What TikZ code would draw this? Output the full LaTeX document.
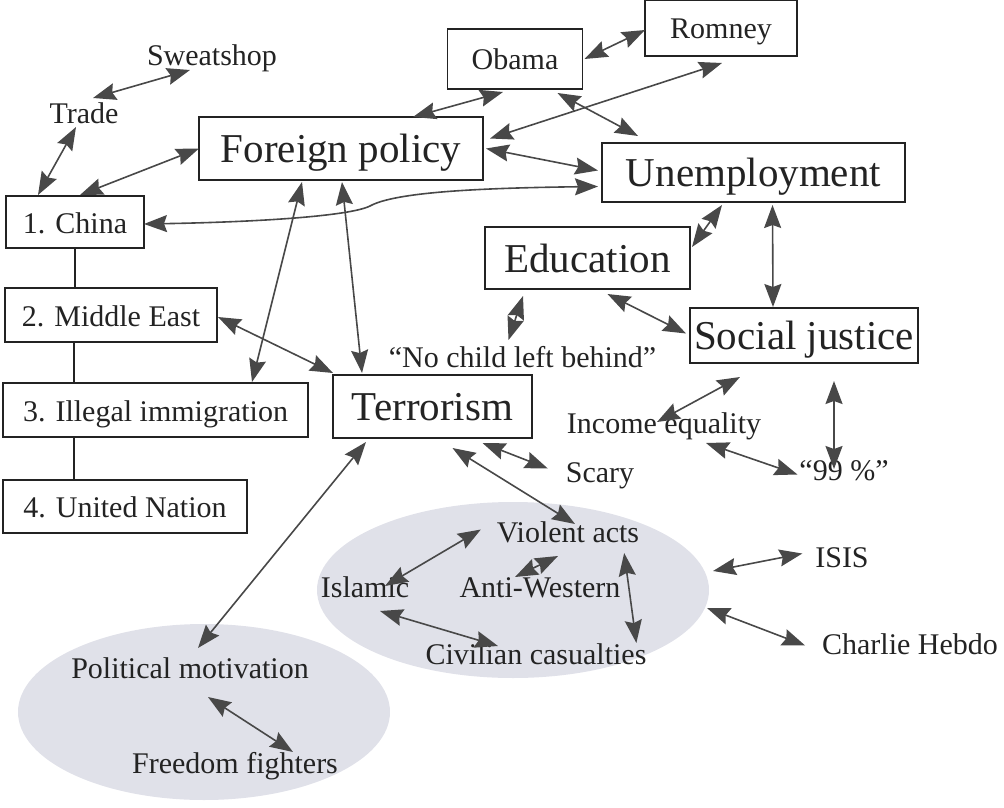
\documentclass[tikz,border=0pt]{standalone}
\usepackage{fontspec}
\setmainfont{Liberation Serif}
\usetikzlibrary{arrows.meta,shapes.geometric}

\definecolor{inkline}{RGB}{72,72,72}
\definecolor{inktext}{RGB}{35,35,35}
\definecolor{blobfill}{RGB}{224,225,233}

\tikzset{
  bigbox/.style={draw=inktext, line width=1.5pt, inner sep=2pt, outer sep=0pt,
    text height=28pt, text depth=0pt, text=inktext, font=\fontsize{41}{44}\selectfont},
  smallbox/.style={draw=inktext, line width=1.5pt, inner sep=2pt, outer sep=0pt,
    text height=22pt, text depth=0pt, text=inktext, font=\fontsize{30}{33}\selectfont},
  lbl/.style={inner sep=0pt, outer sep=0pt, text height=21pt, text depth=6pt,
    text=inktext, font=\fontsize{30}{33}\selectfont},
  blob/.style={ellipse, fill=blobfill, draw=none, inner sep=0pt, outer sep=0pt},
  link/.style={draw=inkline, line width=1.6pt, <->,
    >={Stealth[length=23pt,width=17pt,inset=3pt]}},
  plainlink/.style={draw=inktext, line width=1.5pt}
}

\begin{document}
\begin{tikzpicture}[x=1pt,y=-1pt]
	\useasboundingbox (0,0) rectangle (1004,808);

	%Shape: Ellipse
	\node[blob, minimum width=392pt, minimum height=176pt] (terrell) at (513,590) {};
	%Shape: Ellipse
	\node[blob, minimum width=372pt, minimum height=176pt] (freeell) at (204,712) {};

	% Boxes
	\node[smallbox, minimum width=135pt, minimum height=60pt] (obama) at (515,59) {Obama};
	\node[smallbox, minimum width=152pt, minimum height=56pt] (romney) at (721,28) {Romney};
	\node[bigbox, minimum width=284pt, minimum height=63pt] (forpol) at (341,148.5) {Foreign policy};
	\node[bigbox, minimum width=303pt, minimum height=59pt] (unemp) at (753.5,172.5) {Unemployment};
	\node[smallbox, minimum width=138pt, minimum height=52pt] (china) at (75,222) {1. China};
	\node[bigbox, minimum width=205pt, minimum height=62pt] (edu) at (587.5,258) {Education};
	\node[smallbox, minimum width=212pt, minimum height=54pt] (midea) at (111,315) {2. Middle East};
	\node[bigbox, minimum width=228pt, minimum height=55pt] (socjus) at (804,335.5) {Social justice};
	\node[smallbox, minimum width=305pt, minimum height=54pt] (illeg) at (155.5,410) {3. Illegal immigration};
	\node[bigbox, minimum width=199pt, minimum height=63pt] (terror) at (432.5,406.5) {Terrorism};
	\node[smallbox, minimum width=244pt, minimum height=53pt] (unat) at (125,506.5) {4. United Nation};

	% Text Node
	\node[lbl] (sweat) at (212,58.5) {Sweatshop};
	\node[lbl] (trade) at (84,115.5) {Trade};
	\node[lbl] (nochild) at (522.5,359.5) {“No child left behind”};
	\node[lbl] (income) at (664,425.5) {Income equality};
	\node[lbl] (scary) at (600,474.5) {Scary};
	\node[lbl] (ninety) at (844,472.5) {“99 \%”};
	\node[lbl] (violent) at (568,534.5) {Violent acts};
	\node[lbl] (islamic) at (365,589.5) {Islamic};
	\node[lbl] (antiw) at (540,589.5) {Anti-Western};
	\node[lbl] (civil) at (536,656.5) {Civilian casualties};
	\node[lbl] (isis) at (842,559.5) {ISIS};
	\node[lbl] (charlie) at (910,646.5) {Charlie Hebdo};
	\node[lbl] (polmot) at (190,670.5) {Political motivation};
	\node[lbl] (freedom) at (235,765.5) {Freedom fighters};

	%Straight Lines (list of regions)
	\draw[plainlink] (china.south) -- (china.south |- midea.north);
	\draw[plainlink] ([xshift=-1pt]china.south |- midea.south) -- ([xshift=-1pt]china.south |- illeg.north);
	\draw[plainlink] ([xshift=-1pt]china.south |- illeg.south) -- ([xshift=-1pt]china.south |- unat.north);

	%Straight Lines
	\draw[link] ([xshift=9pt,yshift=4pt]trade.north) -- ([xshift=-22pt,yshift=2pt]sweat.south);
	\draw[link] ([xshift=-8pt,yshift=2pt]trade.south) -- ([xshift=32pt,yshift=1pt]china.north west);
	\draw[link] ([xshift=5pt,yshift=1pt]china.north) -- (forpol.west);
	\draw[link] ([xshift=-12pt,yshift=-3pt]obama.south) -- ([xshift=-70pt]forpol.north east);
	\draw[link] ([xshift=2pt]obama.east) -- ([yshift=-2pt]romney.west);
	\draw[link] ([xshift=1pt,yshift=-7pt]romney.south) -- ([xshift=7pt,yshift=10pt]forpol.east);
	\draw[link] ([xshift=-25pt,yshift=-4pt]obama.south east) -- ([xshift=36pt,yshift=7pt]unemp.north west);
	\draw[link] ([xshift=3pt]forpol.east) -- ([xshift=-4pt,yshift=2pt]unemp.west);
	%Curve
	\draw[link] ([xshift=-4pt,yshift=-14pt]unemp.west) .. controls (480,188) and (395,192) .. (370,206) .. controls (350,216) and (260,222) .. ([yshift=-2pt]china.east);
	\draw[link] ([xshift=-39pt,yshift=-2pt]forpol.south) -- ([xshift=-56pt,yshift=1pt]illeg.north east);
	\draw[link] ([xshift=1pt,yshift=-2pt]forpol.south) -- ([xshift=29pt,yshift=2pt]terror.north west);
	\draw[link] ([xshift=1pt,yshift=-2pt]midea.east) -- ([yshift=2pt]terror.north west);
	\draw[link] ([xshift=120pt,yshift=-3pt]unemp.south west) -- ([xshift=2pt,yshift=-20pt]edu.north east);
	\draw[link] ([xshift=19pt,yshift=-3pt]unemp.south) -- ([xshift=-31pt,yshift=1pt]socjus.north);
	\draw[link] ([xshift=20pt,yshift=-5pt]edu.south) -- ([xshift=-4pt,yshift=2pt]socjus.west);
	\draw[link] ([xshift=38pt,yshift=-7pt]edu.south west) -- ([xshift=-14pt,yshift=6pt]nochild.north);
	\draw[link] ([xshift=-64pt,yshift=-14pt]socjus.south) -- ([xshift=-7pt,yshift=-10pt]income.north);
	\draw[link] ([xshift=30pt,yshift=-18pt]socjus.south) -- ([xshift=-10pt,yshift=-10pt]ninety.north);
	\draw[link] ([xshift=42pt,yshift=-4pt]income.south) -- ([xshift=-2pt,yshift=-2pt]ninety.west);
	\draw[link] ([xshift=50pt,yshift=-5pt]terror.south) -- ([xshift=-18pt,yshift=6pt]scary.west);
	\draw[link] ([xshift=20pt,yshift=-10pt]terror.south) -- ([xshift=7pt,yshift=-3pt]violent.north);
	\draw[link] ([xshift=33pt,yshift=-4pt]terror.south west) -- ([xshift=8pt,yshift=9pt]polmot.north);
	\draw[link] ([xshift=20pt,yshift=-10pt]islamic.north) -- ([xshift=-16pt,yshift=5pt]violent.west);
	\draw[link] ([xshift=-25pt,yshift=-1pt]antiw.north) -- ([xshift=-10pt,yshift=-8pt]violent.south);
	\draw[link] ([xshift=-15pt,yshift=-5pt]violent.south east) -- ([xshift=-10pt]civil.north east);
	\draw[link] ([xshift=15pt,yshift=-8pt]islamic.south) -- ([xshift=-38pt,yshift=-3pt]civil.north);
	\draw[link] ([xshift=4pt,yshift=19pt]terrell.east) -- ([xshift=-13pt,yshift=6pt]isis.west);
	\draw[link] ([xshift=-2pt,yshift=-18pt]terrell.east) -- ([xshift=-17pt,yshift=1pt]charlie.west);
	\draw[link] ([xshift=18pt,yshift=-13pt]polmot.south) -- ([xshift=58pt]freedom.north);
\end{tikzpicture}
\end{document}
